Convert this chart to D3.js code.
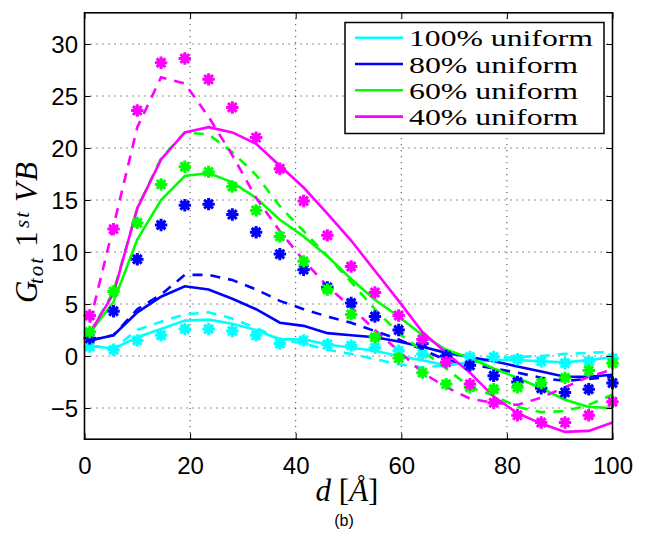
<!DOCTYPE html>
<html><head><meta charset="utf-8">
<script src="https://cdn.jsdelivr.net/npm/d3@7"></script>
<style>
body{margin:0;background:#fff;}
svg{display:block;}
</style></head>
<body>
<svg id="chart" width="648" height="556"></svg>
<script>
// ---- data ----
const dVals = [1, 5.5, 10, 14.5, 19, 23.5, 28, 32.5, 37, 41.5, 46, 50.5, 55, 59.5, 64, 68.5, 73, 77.5, 82, 86.5, 91, 95.5, 100];
const xTicks = [0, 20, 40, 60, 80, 100];
const yTicks = [-5, 0, 5, 10, 15, 20, 25, 30];
const legendLabels = ["100% uniform", "80% uniform", "60% uniform", "40% uniform"];
const seriesColors = ["#00ffff", "#0000ff", "#00ff00", "#ff00ff"];

const cyanSolid  = [1.0, 0.7, 1.8, 2.6, 3.4, 3.5, 3.1, 2.5, 1.6, 1.6, 1.1, 0.8, 0.5, 0.0, -0.4, -0.9, -0.6, -0.4, -0.4, -0.5, -0.6, -0.4, -0.1];
const cyanDashed = [1.0, 0.7, 2.5, 3.3, 4.0, 4.2, 3.6, 2.7, 1.6, 1.2, 0.6, 0.2, -0.3, -0.8, -1.1, -0.9, -0.5, -0.2, -0.1, 0.0, 0.2, 0.3, 0.4];
const cyanMarks  = [0.9, 0.6, 1.5, 2.0, 2.6, 2.6, 2.4, 2.0, 1.2, 1.5, 1.1, 1.0, 0.8, 0.5, 0.2, 0.0, -0.1, -0.1, -0.3, -0.5, -0.7, -0.5, -0.2];

const blueSolid  = [1.5, 2.0, 4.2, 5.7, 6.7, 6.4, 5.5, 4.5, 3.2, 2.9, 2.2, 2.0, 1.8, 1.4, 0.9, 0.3, -0.1, -0.5, -1.0, -1.5, -2.0, -2.0, -1.8];
const blueDashed = [1.5, 2.0, 4.5, 5.9, 7.8, 7.8, 7.3, 6.4, 5.3, 4.5, 3.8, 3.2, 2.4, 1.6, 0.6, -0.4, -0.8, -1.2, -1.6, -2.1, -2.4, -2.2, -2.0];
const blueMarks  = [1.7, 4.3, 9.3, 12.6, 14.5, 14.6, 13.6, 11.9, 9.8, 8.3, 6.6, 5.1, 3.8, 2.5, 1.2, 0.0, -0.9, -1.9, -2.5, -3.1, -3.5, -3.2, -2.6];

const greenSolid  = [2.2, 5.2, 11.2, 15.0, 17.3, 17.6, 16.7, 15.2, 13.1, 11.5, 9.6, 7.4, 5.4, 3.8, 2.0, 0.6, -0.2, -1.2, -2.1, -3.1, -4.2, -4.9, -5.0];
const greenDashed = [2.2, 6.2, 14.2, 19.0, 21.5, 21.3, 19.6, 17.4, 14.4, 12.0, 9.6, 7.1, 4.5, 2.2, 0.5, -1.2, -3.0, -3.8, -4.9, -5.4, -5.3, -4.7, -3.7];
const greenMarks  = [2.3, 6.2, 12.8, 16.5, 18.2, 17.7, 16.3, 14.0, 11.5, 9.1, 6.4, 4.0, 1.8, -0.2, -1.6, -2.7, -3.0, -3.2, -3.0, -2.6, -2.1, -1.4, -0.7];

const magentaSolid  = [2.2, 6.0, 14.2, 18.9, 21.5, 22.0, 21.5, 20.4, 18.3, 16.2, 13.7, 11.1, 8.2, 5.3, 2.3, 0.3, -1.6, -3.9, -5.5, -6.5, -7.3, -7.2, -6.4];
const magentaDashed = [3.2, 12.5, 22.0, 26.8, 26.2, 23.0, 19.3, 15.2, 12.0, 9.2, 6.7, 4.7, 2.5, 0.5, -1.6, -3.0, -4.1, -4.5, -4.7, -4.0, -3.0, -2.0, -1.3];
const magentaMarks  = [3.9, 12.2, 23.6, 28.2, 28.6, 26.6, 23.9, 21.0, 18.0, 14.9, 11.6, 8.6, 6.1, 3.9, 1.6, -0.6, -2.7, -4.5, -5.7, -6.4, -6.4, -5.7, -4.4];

const groups = [
  {solid: cyanSolid, dashed: cyanDashed, marks: cyanMarks},
  {solid: blueSolid, dashed: blueDashed, marks: blueMarks},
  {solid: greenSolid, dashed: greenDashed, marks: greenMarks},
  {solid: magentaSolid, dashed: magentaDashed, marks: magentaMarks}
];

// ---- layout ----
const svg = d3.select("#chart");
svg.append("rect").attr("width", 648).attr("height", 556).attr("fill", "#fff");
const L = 84.5, R = 612.5, T = 12.8, B = 439.2;
const x = d3.scaleLinear().domain([0, 100]).range([L, R]);
const y = d3.scaleLinear().domain([-8, 33]).range([B, T]);

// grid
const grid = svg.append("g").attr("stroke", "#444").attr("stroke-width", 1).attr("stroke-dasharray", "1.2,4.8");
grid.selectAll(".gx").data(xTicks.filter(v => v > 0 && v < 100)).enter().append("line")
  .attr("x1", d => x(d)).attr("x2", d => x(d)).attr("y1", B).attr("y2", T);
grid.selectAll(".gy").data(yTicks).enter().append("line")
  .attr("y1", d => y(d)).attr("y2", d => y(d)).attr("x1", L).attr("x2", R);

// data
const plot = svg.append("g");
const lineGen = vals => d3.line().x((v, i) => x(dVals[i])).y(v => y(v))(vals);
groups.forEach((g, gi) => {
  plot.append("path").attr("d", lineGen(g.dashed)).attr("fill", "none")
    .attr("stroke", seriesColors[gi]).attr("stroke-width", 2.6).attr("stroke-dasharray", "10,8");
  plot.append("path").attr("d", lineGen(g.solid)).attr("fill", "none")
    .attr("stroke", seriesColors[gi]).attr("stroke-width", 2.6);
});
const r = 6.2;
const starPath = (() => {
  let p = "";
  for (let k = 0; k < 4; k++) {
    const a = k * Math.PI / 4;
    const dx = r * Math.cos(a), dy = r * Math.sin(a);
    p += `M${-dx},${-dy}L${dx},${dy}`;
  }
  return p;
})();
groups.forEach((g, gi) => {
  const mg = plot.append("g");
  g.marks.forEach((v, i) => {
    const m = mg.append("g").attr("transform", `translate(${x(dVals[i])},${y(v)})`);
    m.append("circle").attr("r", 4.2).attr("fill", seriesColors[gi]);
    m.append("path").attr("d", starPath).attr("stroke", seriesColors[gi]).attr("stroke-width", 3)
      .attr("stroke-linecap", "butt");
  });
});

// axes
const fontSans = "'Liberation Sans', Arial, Helvetica, sans-serif";
const axB = svg.append("g").attr("transform", `translate(0,${B})`)
  .call(d3.axisBottom(x).tickValues(xTicks).tickSize(-6).tickSizeOuter(0).tickPadding(18));
const axT = svg.append("g").attr("transform", `translate(0,${T})`)
  .call(d3.axisTop(x).tickValues(xTicks).tickSize(-6).tickSizeOuter(0).tickFormat(""));
const axLft = svg.append("g").attr("transform", `translate(${L},0)`)
  .call(d3.axisLeft(y).tickValues(yTicks).tickSize(-6).tickSizeOuter(0).tickPadding(6.5));
const axRt = svg.append("g").attr("transform", `translate(${R},0)`)
  .call(d3.axisRight(y).tickValues(yTicks).tickSize(-6).tickSizeOuter(0).tickFormat(""));
[axB, axT, axLft, axRt].forEach(a => {
  a.select(".domain").remove();
  a.selectAll(".tick line").attr("stroke", "#000").attr("stroke-width", 1);
  a.selectAll(".tick text").attr("font-family", fontSans).attr("font-size", 24).attr("fill", "#000");
});
axLft.selectAll(".tick text").attr("dy", "0.36em");

// box
svg.append("rect").attr("x", L).attr("y", T).attr("width", R - L).attr("height", B - T)
  .attr("fill", "none").attr("stroke", "#000").attr("stroke-width", 1.6);

// legend
const serif = "'Liberation Serif', 'Times New Roman', serif";
const legendWidths = [184, 169, 169, 169];
const lg = svg.append("g");
lg.append("rect").attr("x", 345).attr("y", 22.5).attr("width", 259).attr("height", 111)
  .attr("fill", "#fff").attr("stroke", "#000").attr("stroke-width", 1.5);
legendLabels.forEach((t, i) => {
  const cy = 37.7 + i * 26.3;
  lg.append("line").attr("x1", 355).attr("x2", 403).attr("y1", cy).attr("y2", cy)
    .attr("stroke", seriesColors[i]).attr("stroke-width", 2.6);
  lg.append("text").attr("x", 409).attr("y", cy + 8.5).attr("font-family", serif)
    .attr("font-size", 23.6).attr("fill", "#000")
    .attr("textLength", legendWidths[i]).attr("lengthAdjust", "spacingAndGlyphs").text(t);
});

// axis titles
const xt = svg.append("text").attr("x", 347).attr("y", 501).attr("text-anchor", "middle")
  .attr("font-family", serif).attr("font-size", 31).attr("fill", "#000");
xt.append("tspan").attr("font-style", "italic").text("d");
xt.append("tspan").text(" [");
xt.append("tspan").attr("font-style", "italic").text("Å");
xt.append("tspan").text("]");

// y title, pieces placed along the rotated baseline
const yg = svg.append("g").attr("transform", "translate(37,303) rotate(-90)")
  .attr("font-family", serif).attr("fill", "#000");
yg.append("text").attr("x", 0).attr("y", 0).attr("font-size", 31).attr("font-style", "italic").text("G");
yg.append("text").attr("x", 19).attr("y", 6).attr("font-size", 21).attr("font-style", "italic")
  .attr("textLength", 26).attr("lengthAdjust", "spacing").text("tot");
yg.append("text").attr("x", 56).attr("y", 0).attr("font-size", 31).text("1");
yg.append("text").attr("x", 75).attr("y", -8).attr("font-size", 21).attr("font-style", "italic")
  .attr("textLength", 16).attr("lengthAdjust", "spacing").text("st");
yg.append("text").attr("x", 101).attr("y", 0).attr("font-size", 31).attr("font-style", "italic").text("V");
yg.append("text").attr("x", 122).attr("y", 0).attr("font-size", 31).attr("font-style", "italic").text("B");

svg.append("text").attr("x", 344).attr("y", 526).attr("text-anchor", "middle")
  .attr("font-family", fontSans).attr("font-size", 16).attr("fill", "#000").text("(b)");
</script>
</body></html>
